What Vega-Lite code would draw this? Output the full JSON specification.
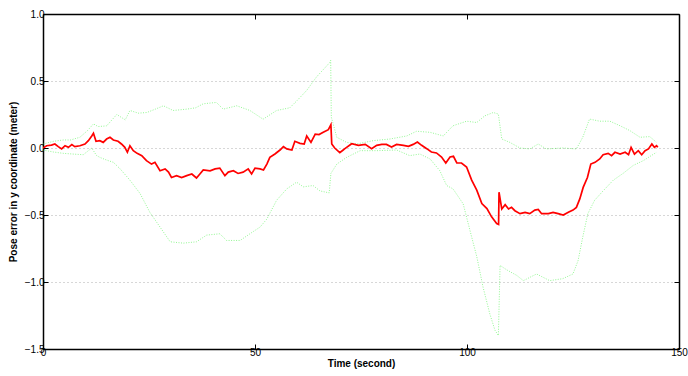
{
  "$schema": "https://vega.github.io/schema/vega-lite/v6.json",
  "width": 636,
  "height": 335,
  "autosize": {"type": "none"},
  "padding": {"left": 43, "top": 14, "right": 9, "bottom": 27},
  "background": "white",
  "config": {
    "view": {"stroke": null},
    "font": "Liberation Sans",
    "axis": {
      "labelFont": "Liberation Sans",
      "labelFontSize": 10,
      "labelColor": "#000",
      "titleFont": "Liberation Sans",
      "titleFontSize": 10,
      "titleFontWeight": "bold",
      "titleColor": "#000",
      "domainColor": "#000",
      "domainWidth": 1.5,
      "tickColor": "#000",
      "tickSize": -5,
      "tickWidth": 1,
      "labelFlush": false,
      "labelOverlap": false,
      "grid": false
    }
  },
  "datasets": {
    "err": [
      {"t":0,"v":0.0},{"t":0.86,"v":0.017},{"t":2.0,"v":0.022},{"t":2.8,"v":0.03},{"t":3.6,"v":0.01},{"t":4.4,"v":-0.007},{"t":5.2,"v":0.017},{"t":6.0,"v":0.005},{"t":6.8,"v":0.025},{"t":7.5,"v":0.01},{"t":8.7,"v":0.017},{"t":9.9,"v":0.03},{"t":10.7,"v":0.055},{"t":11.5,"v":0.09},{"t":11.9,"v":0.11},{"t":12.5,"v":0.05},{"t":13.4,"v":0.055},{"t":14.2,"v":0.042},{"t":15.0,"v":0.067},{"t":15.8,"v":0.08},{"t":16.6,"v":0.06},{"t":17.7,"v":0.05},{"t":18.5,"v":0.03},{"t":19.3,"v":0.005},{"t":19.9,"v":-0.032},{"t":20.5,"v":0.017},{"t":21.3,"v":-0.02},{"t":22.2,"v":-0.04},{"t":23.3,"v":-0.057},{"t":24.4,"v":-0.094},{"t":25.6,"v":-0.12},{"t":26.4,"v":-0.107},{"t":27.6,"v":-0.17},{"t":28.8,"v":-0.156},{"t":29.6,"v":-0.18},{"t":30.3,"v":-0.22},{"t":31.5,"v":-0.206},{"t":32.7,"v":-0.22},{"t":33.9,"v":-0.206},{"t":35.1,"v":-0.194},{"t":36.2,"v":-0.224},{"t":37.0,"v":-0.194},{"t":37.8,"v":-0.164},{"t":39.4,"v":-0.17},{"t":40.6,"v":-0.156},{"t":41.7,"v":-0.15},{"t":42.9,"v":-0.206},{"t":43.7,"v":-0.18},{"t":44.9,"v":-0.17},{"t":46.0,"v":-0.19},{"t":47.2,"v":-0.18},{"t":48.4,"v":-0.156},{"t":49.2,"v":-0.194},{"t":50.0,"v":-0.15},{"t":51.2,"v":-0.156},{"t":52.0,"v":-0.164},{"t":52.8,"v":-0.12},{"t":53.5,"v":-0.07},{"t":54.7,"v":-0.045},{"t":55.9,"v":-0.015},{"t":56.7,"v":0.01},{"t":57.5,"v":-0.007},{"t":58.7,"v":-0.015},{"t":59.4,"v":0.05},{"t":60.6,"v":0.035},{"t":61.6,"v":0.03},{"t":62.2,"v":0.09},{"t":63.2,"v":0.042},{"t":64.2,"v":0.104},{"t":65.1,"v":0.1},{"t":66.1,"v":0.117},{"t":67.3,"v":0.137},{"t":67.9,"v":0.174},{"t":68.1,"v":0.03},{"t":68.8,"v":0.0},{"t":70.0,"v":-0.035},{"t":70.8,"v":-0.015},{"t":71.2,"v":-0.005},{"t":72.8,"v":0.032},{"t":74.4,"v":0.02},{"t":76.0,"v":0.027},{"t":77.5,"v":-0.005},{"t":78.7,"v":0.02},{"t":79.9,"v":0.027},{"t":81.0,"v":0.027},{"t":82.2,"v":0.007},{"t":83.4,"v":0.027},{"t":85.0,"v":0.02},{"t":86.2,"v":0.012},{"t":87.3,"v":0.027},{"t":88.3,"v":0.045},{"t":89.3,"v":0.02},{"t":90.5,"v":-0.005},{"t":91.6,"v":-0.03},{"t":92.8,"v":-0.037},{"t":94.0,"v":-0.067},{"t":95.0,"v":-0.112},{"t":96.0,"v":-0.067},{"t":96.8,"v":-0.062},{"t":97.6,"v":-0.112},{"t":98.7,"v":-0.112},{"t":99.9,"v":-0.142},{"t":101.1,"v":-0.24},{"t":102.3,"v":-0.315},{"t":103.5,"v":-0.415},{"t":104.7,"v":-0.452},{"t":105.8,"v":-0.514},{"t":107.0,"v":-0.564},{"t":107.45,"v":-0.57},{"t":107.55,"v":-0.33},{"t":108.2,"v":-0.455},{"t":109.0,"v":-0.423},{"t":109.8,"v":-0.455},{"t":110.5,"v":-0.443},{"t":111.3,"v":-0.468},{"t":112.5,"v":-0.49},{"t":113.7,"v":-0.48},{"t":114.8,"v":-0.49},{"t":116.0,"v":-0.463},{"t":116.8,"v":-0.458},{"t":117.6,"v":-0.49},{"t":119.2,"v":-0.49},{"t":120.3,"v":-0.48},{"t":121.5,"v":-0.49},{"t":122.7,"v":-0.5},{"t":123.9,"v":-0.48},{"t":125.0,"v":-0.463},{"t":125.8,"v":-0.443},{"t":126.6,"v":-0.38},{"t":127.4,"v":-0.294},{"t":128.4,"v":-0.22},{"t":129.2,"v":-0.12},{"t":130.2,"v":-0.107},{"t":131.3,"v":-0.082},{"t":132.1,"v":-0.05},{"t":133.3,"v":-0.04},{"t":134.1,"v":-0.057},{"t":134.9,"v":-0.032},{"t":136.1,"v":-0.045},{"t":137.3,"v":-0.032},{"t":138.1,"v":-0.05},{"t":138.7,"v":0.005},{"t":139.5,"v":-0.045},{"t":140.4,"v":-0.02},{"t":141.2,"v":-0.05},{"t":142.0,"v":-0.02},{"t":142.8,"v":-0.007},{"t":143.6,"v":0.03},{"t":144.2,"v":0.005},{"t":144.7,"v":0.017},{"t":145.0,"v":0.005}
    ],
    "up": [
      {"t":0,"v":0.03},{"t":2.5,"v":0.05},{"t":4.8,"v":0.06},{"t":6.5,"v":0.06},{"t":8.7,"v":0.08},{"t":10.5,"v":0.13},{"t":11.9,"v":0.18},{"t":13,"v":0.16},{"t":15,"v":0.165},{"t":17.4,"v":0.25},{"t":19.4,"v":0.21},{"t":20.5,"v":0.28},{"t":22.5,"v":0.26},{"t":24.5,"v":0.265},{"t":26.5,"v":0.29},{"t":28.4,"v":0.315},{"t":30.7,"v":0.28},{"t":33.9,"v":0.29},{"t":36,"v":0.3},{"t":37.8,"v":0.33},{"t":40.9,"v":0.34},{"t":42.5,"v":0.29},{"t":45.7,"v":0.315},{"t":48.8,"v":0.28},{"t":51.9,"v":0.215},{"t":55.1,"v":0.28},{"t":58.2,"v":0.3},{"t":59.8,"v":0.35},{"t":62.2,"v":0.43},{"t":64.5,"v":0.53},{"t":67.7,"v":0.64},{"t":67.85,"v":0.655},{"t":68,"v":0.23},{"t":69.3,"v":0.08},{"t":71.6,"v":0.042},{"t":74,"v":0.03},{"t":77.9,"v":0.055},{"t":81.8,"v":0.067},{"t":85.8,"v":0.09},{"t":88.1,"v":0.125},{"t":91.3,"v":0.117},{"t":94.4,"v":0.09},{"t":96.7,"v":0.166},{"t":99.9,"v":0.2},{"t":102.3,"v":0.19},{"t":104.2,"v":0.24},{"t":106.2,"v":0.265},{"t":107.4,"v":0.253},{"t":108.2,"v":0.067},{"t":110.1,"v":0.042},{"t":112.5,"v":0},{"t":114.8,"v":-0.007},{"t":116.8,"v":0.03},{"t":118.7,"v":-0.007},{"t":122.6,"v":0},{"t":125.8,"v":-0.007},{"t":127.3,"v":0.08},{"t":128.9,"v":0.216},{"t":131.3,"v":0.2},{"t":133.7,"v":0.2},{"t":136.1,"v":0.166},{"t":138.4,"v":0.13},{"t":140.8,"v":0.08},{"t":143.1,"v":0.085},{"t":144.7,"v":0.042}
    ],
    "lo": [
      {"t":0,"v":-0.015},{"t":2.5,"v":-0.03},{"t":4.8,"v":-0.04},{"t":7,"v":-0.045},{"t":9.5,"v":-0.05},{"t":11.5,"v":0.0},{"t":12.6,"v":-0.055},{"t":13.4,"v":-0.07},{"t":15,"v":-0.09},{"t":16.6,"v":-0.107},{"t":18.2,"v":-0.156},{"t":20.5,"v":-0.24},{"t":22.9,"v":-0.34},{"t":25.2,"v":-0.48},{"t":27.6,"v":-0.59},{"t":30,"v":-0.7},{"t":33.1,"v":-0.71},{"t":36.2,"v":-0.7},{"t":38.6,"v":-0.65},{"t":41.7,"v":-0.64},{"t":43.3,"v":-0.69},{"t":46.5,"v":-0.69},{"t":48.8,"v":-0.64},{"t":51.2,"v":-0.59},{"t":52.8,"v":-0.53},{"t":55.1,"v":-0.39},{"t":57.5,"v":-0.305},{"t":59.8,"v":-0.255},{"t":61.4,"v":-0.29},{"t":63.7,"v":-0.28},{"t":65.3,"v":-0.32},{"t":67.5,"v":-0.335},{"t":67.9,"v":-0.19},{"t":69.3,"v":-0.12},{"t":71.6,"v":-0.07},{"t":74.8,"v":-0.02},{"t":78.7,"v":-0.02},{"t":83.4,"v":-0.015},{"t":86.5,"v":-0.057},{"t":88.9,"v":-0.045},{"t":91.3,"v":-0.082},{"t":93.6,"v":-0.17},{"t":95.2,"v":-0.28},{"t":96.7,"v":-0.305},{"t":99.1,"v":-0.417},{"t":100.7,"v":-0.615},{"t":102.3,"v":-0.81},{"t":103.8,"v":-1.04},{"t":105.4,"v":-1.24},{"t":106.6,"v":-1.36},{"t":107.4,"v":-1.4},{"t":107.8,"v":-0.876},{"t":109.4,"v":-0.91},{"t":111.7,"v":-0.95},{"t":113.3,"v":-0.99},{"t":116.4,"v":-0.94},{"t":119.5,"v":-0.99},{"t":122.6,"v":-0.975},{"t":125,"v":-0.94},{"t":126.2,"v":-0.84},{"t":127.3,"v":-0.665},{"t":128.5,"v":-0.49},{"t":130.1,"v":-0.39},{"t":132.1,"v":-0.32},{"t":134.5,"v":-0.24},{"t":136.8,"v":-0.19},{"t":139.2,"v":-0.13},{"t":141.6,"v":-0.094},{"t":144.7,"v":-0.032}
    ]
  },
  "layer": [
    {
      "data": {"name": "up"},
      "mark": {"type": "line", "color": "#22ee22", "strokeWidth": 0.9, "strokeDash": [1, 1.5], "opacity": 0.55, "clip": true},
      "encoding": {
        "x": {"field": "t", "type": "quantitative", "scale": {"domain": [0, 150], "nice": false, "zero": false},
              "axis": {"orient": "top", "labels": false, "title": null, "values": [0, 50, 100, 150]}},
        "y": {"field": "v", "type": "quantitative", "scale": {"domain": [-1.5, 1], "nice": false, "zero": false},
              "axis": {"orient": "right", "labels": false, "title": null, "values": [-1.5, -1, -0.5, 0, 0.5, 1]}}
      }
    },
    {
      "data": {"name": "lo"},
      "mark": {"type": "line", "color": "#22ee22", "strokeWidth": 0.9, "strokeDash": [1, 1.5], "opacity": 0.55, "clip": true},
      "encoding": {
        "x": {"field": "t", "type": "quantitative", "axis": null},
        "y": {"field": "v", "type": "quantitative", "axis": null}
      }
    },
    {
      "data": {"name": "err"},
      "mark": {"type": "line", "color": "#ff0000", "strokeWidth": 1.7, "clip": true},
      "encoding": {
        "x": {"field": "t", "type": "quantitative",
              "axis": {"orient": "bottom", "title": "Time (second)", "values": [0, 50, 100, 150], "labelPadding": 3, "titlePadding": 1}},
        "y": {"field": "v", "type": "quantitative",
              "axis": {"orient": "left", "title": "Pose error in y coordinate (meter)", "values": [-1.5, -1, -0.5, 0, 0.5, 1], "labelPadding": 4, "titlePadding": 6,
                       "grid": true, "gridColor": "#999", "gridDash": [1, 3], "gridWidth": 0.8}}
      }
    }
  ],
  "resolve": {"axis": {"x": "independent", "y": "independent"}}
}
